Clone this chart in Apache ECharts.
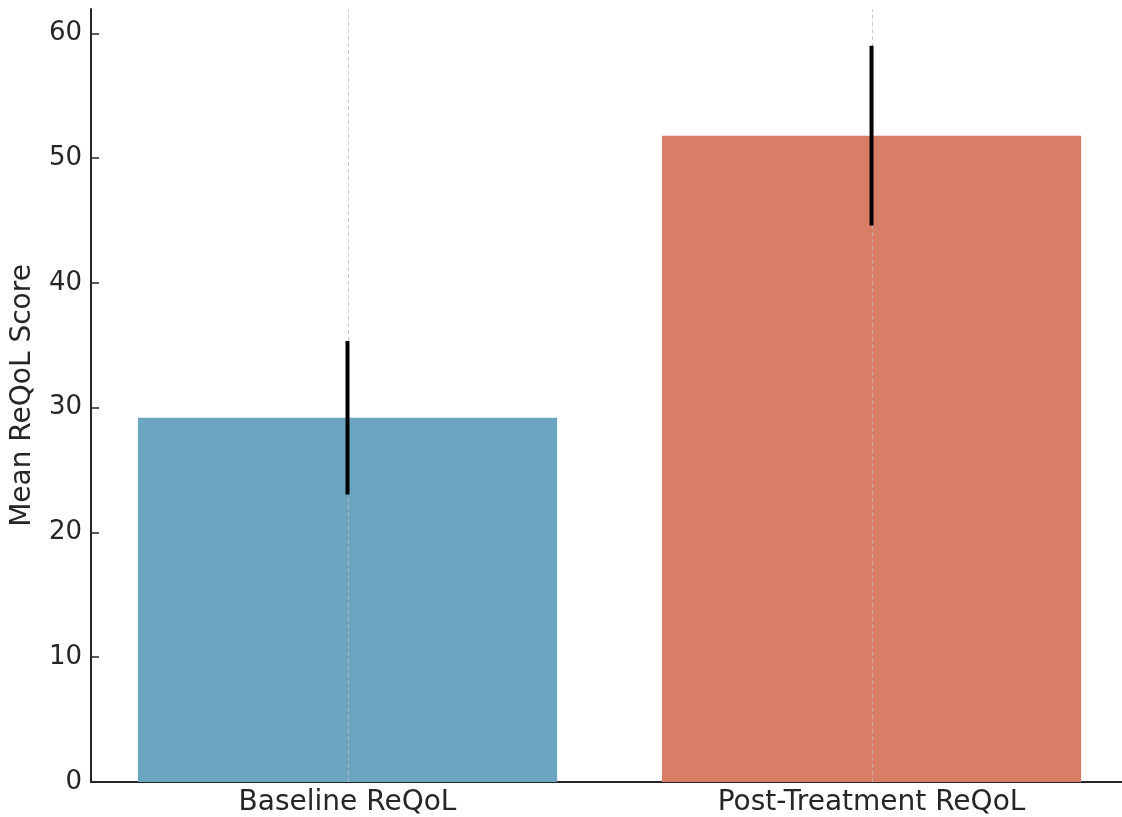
<!DOCTYPE html>
<html>
<head>
<meta charset="utf-8">
<script src="https://cdn.jsdelivr.net/npm/echarts@6/dist/echarts.min.js"></script>
<style>html,body{margin:0;padding:0;background:#fff;}#c{width:1122px;height:817px;}</style>
</head>
<body>
<div id="c"></div>
<script>
const categories = ['Baseline ReQoL', 'Post-Treatment ReQoL'];
const means = [29.2, 51.8];
const errors = [6.15, 7.2];
const barColors = ['#6ca5c0', '#d97e66'];
const yTicks = [0, 10, 20, 30, 40, 50, 60];

const chart = echarts.init(document.getElementById('c'), null, {renderer: 'canvas'});
const barData = means.map((v, i) => [i, v]);
const errData = means.map((v, i) => [i, v - errors[i], v + errors[i]]);
const gridData = categories.map((c, i) => [i]);
const FONT = 'DejaVu Sans';
const FS_TICK = 26;
const FS_LABEL = 28;
const BAR_W = 0.8;

chart.setOption({
  animation: false,
  grid: {left: 91, right: 0, top: 9, bottom: 35, containLabel: false, outerBoundsMode: 'none'},
  xAxis: {
    type: 'value', min: -0.4895, max: 1.478,
    axisLine: {show: true, onZero: false, lineStyle: {color: '#262626', width: 2}},
    axisTick: {show: true, inside: true, length: 8, customValues: [0, 1], lineStyle: {color: '#262626', width: 1.5}},
    axisLabel: {show: true, customValues: [0, 1], formatter: v => categories[Math.round(v)], fontFamily: FONT, fontSize: FS_LABEL, color: '#262626', margin: 7},
    splitLine: {show: false}
  },
  yAxis: {
    type: 'value', min: 0, max: 61.95, interval: 10,
    name: 'Mean ReQoL Score', nameLocation: 'middle', nameGap: 54,
    nameTextStyle: {fontFamily: FONT, fontSize: FS_LABEL, color: '#262626'},
    axisLine: {show: true, onZero: false, lineStyle: {color: '#262626', width: 2}},
    axisTick: {show: true, inside: true, length: 8, customValues: yTicks, lineStyle: {color: '#262626', width: 1.5}},
    axisLabel: {customValues: yTicks, fontFamily: FONT, fontSize: FS_TICK, color: '#262626', margin: 9},
    splitLine: {show: false}
  },
  series: [
    {
      type: 'custom', z: 1,
      data: barData,
      renderItem: (params, api) => {
        const x = api.value(0), y = api.value(1);
        const p0 = api.coord([x - BAR_W / 2, y]);
        const p1 = api.coord([x + BAR_W / 2, 0]);
        return {type: 'rect', shape: {x: p0[0], y: p0[1], width: p1[0] - p0[0], height: p1[1] - p0[1]},
          style: {fill: barColors[params.dataIndex]}};
      }
    },
    {
      type: 'custom', z: 2,
      data: gridData,
      renderItem: (params, api) => {
        const x = api.value(0);
        const a = api.coord([x, 0]), b = api.coord([x, 61.95]);
        return {type: 'line', shape: {x1: Math.round(a[0]) + 0.5, y1: a[1], x2: Math.round(a[0]) + 0.5, y2: b[1]},
          style: {stroke: 'rgba(190,190,190,0.75)', lineWidth: 1, lineDash: [4, 3]}};
      }
    },
    {
      type: 'custom', z: 3,
      data: errData,
      renderItem: (params, api) => {
        const x = api.value(0);
        const a = api.coord([x, api.value(1)]), b = api.coord([x, api.value(2)]);
        return {type: 'line', shape: {x1: a[0], y1: a[1], x2: b[0], y2: b[1]},
          style: {stroke: '#000', lineWidth: 4}};
      }
    }
  ]
});
</script>
</body>
</html>
